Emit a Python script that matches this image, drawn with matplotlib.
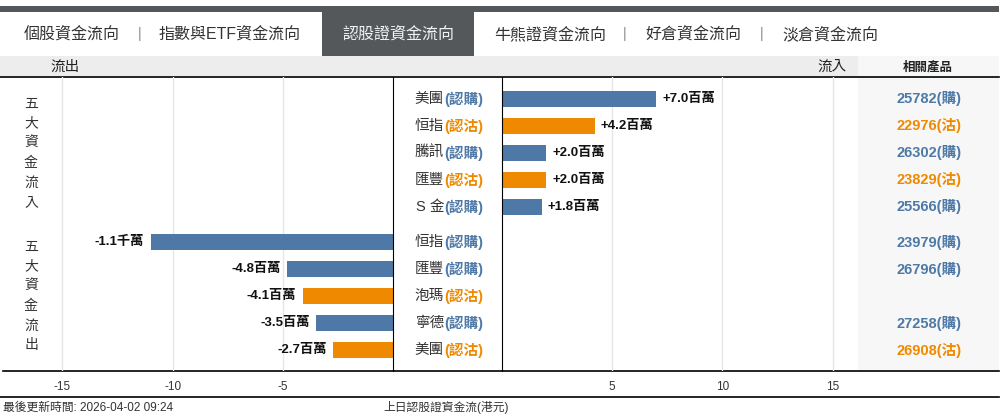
import matplotlib
matplotlib.use('Agg')
import matplotlib.pyplot as plt
import matplotlib.transforms as mtransforms
from matplotlib.patches import Rectangle
import numpy as np

plt.rcParams['font.family'] = ['Liberation Sans', 'Noto Sans CJK TC', 'DejaVu Sans']
plt.rcParams['axes.unicode_minus'] = False

# ---- data ----
in_names = ['美團', '恒指', '騰訊', '匯豐', 'S 金']
in_types = ['購', '沽', '購', '沽', '購']
in_values = [7.0, 4.2, 2.0, 2.0, 1.8]
in_labels = ['+7.0百萬', '+4.2百萬', '+2.0百萬', '+2.0百萬', '+1.8百萬']
in_products = ['25782', '22976', '26302', '23829', '25566']

out_names = ['恒指', '匯豐', '泡瑪', '寧德', '美團']
out_types = ['購', '購', '沽', '購', '沽']
out_values = [-11.0, -4.8, -4.1, -3.5, -2.7]
out_labels = ['-1.1千萬', '-4.8百萬', '-4.1百萬', '-3.5百萬', '-2.7百萬']
out_products = ['23979', '26796', '', '27258', '26908']

tabs = ['個股資金流向', '指數與ETF資金流向', '認股證資金流向', '牛熊證資金流向', '好倉資金流向', '淡倉資金流向']
active_tab = 2
left_ticks = [-15, -10, -5]
right_ticks = [5, 10, 15]
footer_left = '最後更新時間: 2026-04-02 09:24'
footer_mid = '上日認股證資金流(港元)'

# ---- style ----
BLUE = '#4e79a7'
ORANGE = '#ef8a00'
DARK = '#55585b'
TXT = '#333333'
type_color = {'購': BLUE, '沽': ORANGE}

W, H = 1007, 418
PXU = 22.04                # pixels per unit (million HKD)
top, bot = 77, 371         # plot area in pixels
zl, zr, right_edge = 393, 502, 999

fig = plt.figure(figsize=(W / 100, H / 100), dpi=100)
ax0 = fig.add_axes([0, 0, 1, 1])
ax0.set_xlim(0, W)
ax0.set_ylim(H, 0)
ax0.axis('off')

# frame / tabs
ax0.add_patch(Rectangle((0, 6), right_edge, 6, color=DARK, lw=0))
ax0.add_patch(Rectangle((322, 12), 152, 44, color=DARK, lw=0))
ax0.add_patch(Rectangle((0, 56), 858, 20, color='#ededed', lw=0))
ax0.add_patch(Rectangle((858, 56), right_edge - 858, 20, color='#f7f7f7', lw=0))
ax0.add_patch(Rectangle((858, top), right_edge - 858, bot - top, color='#f7f7f7', lw=0))
ax0.plot([0, right_edge], [76.5, 76.5], color='black', lw=1.2)
ax0.plot([3, right_edge], [371, 371], color='black', lw=1.2)
ax0.plot([0, right_edge], [397, 397], color='black', lw=1.2)

tab_x = [72, 230, 398, 550, 693, 830]
for i, (t, x) in enumerate(zip(tabs, tab_x)):
    ax0.text(x, 34, t, ha='center', va='center', fontsize=11.5,
             color='#f2f2f2' if i == active_tab else TXT)
for x in [140, 625, 762]:
    ax0.text(x, 34, '|', ha='center', va='center', fontsize=10, color='#888888')

ax0.text(65, 67, '流出', ha='center', va='center', fontsize=10.5, color='#222222')
ax0.text(832, 67, '流入', ha='center', va='center', fontsize=10.5, color='#222222')
ax0.text(928, 67, '相關產品', ha='center', va='center', fontsize=9, color='#222222',
         fontweight='bold')

ax0.text(3, 408, footer_left, ha='left', va='center', fontsize=8.5, color=TXT)
ax0.text(383, 408, footer_mid, ha='left', va='center', fontsize=8.5, color=TXT)

# ---- data axes ----
fb = 1 - bot / H
fh = (bot - top) / H
axL = fig.add_axes([0, fb, zl / W, fh])
axR = fig.add_axes([zr / W, fb, (right_edge - zr) / W, fh])
axL.set_xlim(-zl / PXU, 0)
axR.set_xlim(0, (right_edge - zr) / PXU)

y_in = np.arange(len(in_values))
y_out = np.arange(len(out_values)) + len(in_values) + 0.3
ylim = (y_out[-1] + 21 / 27, -22 / 27)

for ax, ticks in [(axL, left_ticks), (axR, right_ticks)]:
    ax.set_facecolor('none')
    ax.set_ylim(*ylim)
    ax.set_yticks([])
    ax.set_xticks(ticks)
    ax.tick_params(axis='x', length=0, labelsize=8.5, pad=7, colors=TXT)
    ax.grid(axis='x', color='#e6e6e6', lw=1)
    ax.set_axisbelow(True)
    for s in ax.spines.values():
        s.set_visible(False)
axL.spines['right'].set_visible(True)
axL.spines['right'].set_color('black')
axR.spines['left'].set_visible(True)
axR.spines['left'].set_color('black')

axR.barh(y_in, in_values, height=0.6, color=[type_color[t] for t in in_types])
axL.barh(y_out, out_values, height=0.6, color=[type_color[t] for t in out_types])

lab_font = dict(fontsize=9.5, fontweight='bold', color='#111111', va='center')
for y, v, lab in zip(y_in, in_values, in_labels):
    axR.annotate(lab, (v, y), xytext=(4.5, 0), textcoords='offset points', ha='left', **lab_font)
for y, v, lab in zip(y_out, out_values, out_labels):
    axL.annotate(lab, (v, y), xytext=(-4.5, 0), textcoords='offset points', ha='right', **lab_font)

# centre name column + product column
tr = mtransforms.blended_transform_factory(ax0.transData, axL.transData)
rows = list(zip(y_in, in_names, in_types, in_products)) + \
       list(zip(y_out, out_names, out_types, out_products))
for y, name, typ, prod in rows:
    c = type_color[typ]
    suf = ax0.text(483, y, '(認' + typ + ')', transform=tr, ha='right', va='center',
                   fontsize=10.5, color=c, fontweight='bold')
    ax0.annotate(name, xy=(0, 0.5), xycoords=suf, ha='right', va='center',
                 fontsize=10.5, color=TXT)
    if prod:
        ax0.text(929, y, prod + '(' + typ + ')', transform=tr, ha='center', va='center',
                 fontsize=10.5, color=c, fontweight='bold')

# vertical side captions
for chars, ys in [('五大資金流入', y_in), ('五大資金流出', y_out)]:
    mid = (ys[0] + ys[-1]) / 2
    for i, ch in enumerate(chars):
        ax0.text(31, mid + (i - 2.5) * 19.6 / 27, ch, transform=tr, ha='center',
                 va='center', fontsize=10, color=TXT)

fig.savefig('out.png', dpi=100)
